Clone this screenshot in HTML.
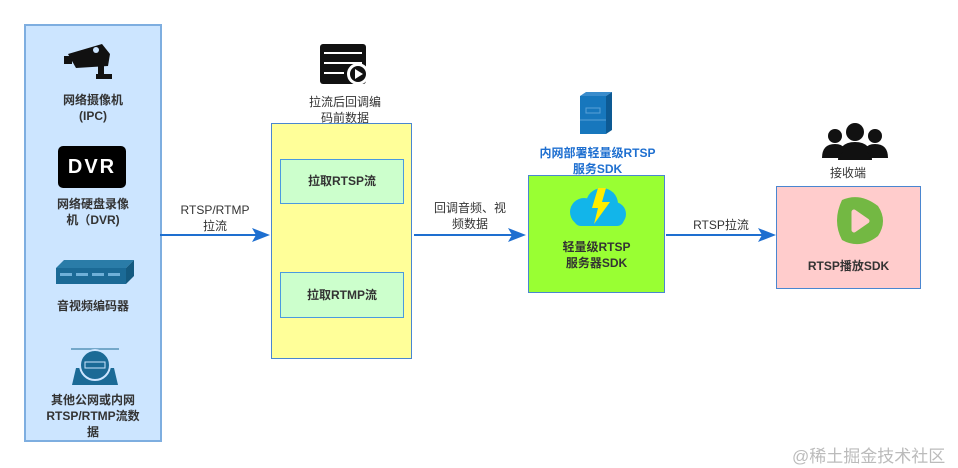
<!DOCTYPE html>
<html><head><meta charset="utf-8"><style>
body{margin:0;width:958px;height:468px;background:#fff;position:relative;overflow:hidden;font-family:"Liberation Sans","Noto Sans CJK SC",sans-serif;color:#333}
.a{position:absolute}
.t{position:absolute;text-align:center;font-size:12px;line-height:16px}
.b{font-weight:bold}
</style></head><body>
<div class="a" style="left:24px;top:24px;width:134px;height:414px;background:#cce5ff;border:2px solid #7eaee0"></div>
<!-- camera -->
<svg class="a" style="left:62px;top:42px" width="56" height="40"><polygon points="6,12 40,2 48,12 46,24 14,26" fill="#111"/><rect x="2" y="14" width="8" height="8" fill="#111"/><circle cx="34" cy="8" r="3" fill="#cce5ff"/><rect x="36" y="24" width="6" height="10" fill="#111"/><rect x="34" y="32" width="16" height="5" fill="#111"/></svg>
<div class="t b" style="left:24px;top:92px;width:138px">网络摄像机<br>(IPC)</div>
<div class="a" style="left:58px;top:146px;width:68px;height:42px;background:#000;border-radius:5px;color:#fff;font-weight:bold;font-size:20px;line-height:42px;text-align:center;letter-spacing:2px">DVR</div>
<div class="t b" style="left:24px;top:196px;width:138px">网络硬盘录像<br>机（DVR)</div>
<svg class="a" style="left:56px;top:260px" width="78" height="26"><polygon points="0,8 8,0 78,0 70,8" fill="#2a7ca8"/><polygon points="70,8 78,0 78,16 70,24" fill="#145a80"/><rect x="0" y="8" width="70" height="16" fill="#1b6a96"/><rect x="4" y="13" width="12" height="3" fill="#6fb0d8"/><rect x="20" y="13" width="12" height="3" fill="#6fb0d8"/><rect x="36" y="13" width="12" height="3" fill="#6fb0d8"/><rect x="52" y="13" width="12" height="3" fill="#6fb0d8"/></svg>
<div class="t b" style="left:24px;top:298px;width:138px">音视频编码器</div>
<svg class="a" style="left:70px;top:348px" width="50" height="38"><line x1="1" y1="1" x2="49" y2="1" stroke="#1b6a96"/><polygon points="6,20 44,20 48,37 2,37" fill="#1b6a96"/><circle cx="25" cy="17" r="15" fill="#1b6a96" stroke="#cce5ff" stroke-width="2"/><rect x="15" y="14" width="20" height="6" fill="none" stroke="#cce5ff"/></svg>
<div class="t b" style="left:24px;top:392px;width:138px">其他公网或内网<br>RTSP/RTMP流数<br>据</div>
<!-- arrow 1 -->
<div class="a" style="left:160px;top:234px;width:100px;height:2px;background:#1e6fd0"></div>
<svg class="a" style="left:252px;top:228px" width="18" height="14"><polygon points="0,0 18,7 0,14 4,7" fill="#1e6fd0"/></svg>
<div class="t" style="left:170px;top:202px;width:90px">RTSP/RTMP<br>拉流</div>
<!-- server icon -->
<svg class="a" style="left:320px;top:44px" width="52" height="42"><rect x="0" y="0" width="46" height="40" fill="#111" rx="3"/><rect x="4" y="8" width="38" height="2" fill="#fff"/><rect x="4" y="18" width="38" height="2" fill="#fff"/><rect x="4" y="28" width="20" height="2" fill="#fff"/><circle cx="38" cy="30" r="11" fill="#fff"/><circle cx="38" cy="30" r="8" fill="#111"/><polygon points="35,25 43,30 35,35" fill="#fff"/></svg>
<div class="t" style="left:290px;top:94px;width:110px">拉流后回调编<br>码前数据</div>
<div class="a" style="left:271px;top:123px;width:141px;height:236px;background:#ffff99;border:1px solid #4a86d0;box-sizing:border-box"></div>
<div class="a b" style="left:280px;top:159px;width:124px;height:45px;background:#ccffcc;border:1px solid #4a9ae0;box-sizing:border-box;font-size:12px;line-height:43px;text-align:center">拉取RTSP流</div>
<div class="a b" style="left:280px;top:272px;width:124px;height:46px;background:#ccffcc;border:1px solid #4a9ae0;box-sizing:border-box;font-size:12px;line-height:44px;text-align:center">拉取RTMP流</div>
<!-- arrow 2 -->
<div class="a" style="left:414px;top:234px;width:100px;height:2px;background:#1e6fd0"></div>
<svg class="a" style="left:508px;top:228px" width="18" height="14"><polygon points="0,0 18,7 0,14 4,7" fill="#1e6fd0"/></svg>
<div class="t" style="left:420px;top:200px;width:100px">回调音频、视<br>频数据</div>
<!-- blue server -->
<svg class="a" style="left:580px;top:92px" width="34" height="44"><polygon points="0,4 6,0 32,0 26,4" fill="#3a8ccc"/><polygon points="26,4 32,0 32,38 26,42" fill="#0d5a94"/><rect x="0" y="4" width="26" height="38" fill="#1777bd"/><rect x="6" y="16" width="14" height="5" fill="none" stroke="#5aa0d8"/><line x1="0" y1="28" x2="26" y2="28" stroke="#5aa0d8"/></svg>
<div class="t b" style="left:520px;top:145px;width:155px;color:#1e6fd0">内网部署轻量级RTSP<br>服务SDK</div>
<div class="a" style="left:528px;top:175px;width:137px;height:118px;background:#99ff33;border:1px solid #4a86d0;box-sizing:border-box"></div>
<svg class="a" style="left:564px;top:186px" width="66" height="44"><circle cx="20" cy="26" r="14" fill="#12b5ea"/><circle cx="38" cy="18" r="16" fill="#12b5ea"/><circle cx="50" cy="28" r="12" fill="#12b5ea"/><rect x="10" y="26" width="50" height="14" rx="7" fill="#12b5ea"/><polygon points="34,2 42,2 38,16 46,16 30,38 34,22 28,22" fill="#ffee00"/></svg>
<div class="t b" style="left:528px;top:239px;width:137px">轻量级RTSP<br>服务器SDK</div>
<!-- arrow 3 -->
<div class="a" style="left:666px;top:234px;width:100px;height:2px;background:#1e6fd0"></div>
<svg class="a" style="left:758px;top:228px" width="18" height="14"><polygon points="0,0 18,7 0,14 4,7" fill="#1e6fd0"/></svg>
<div class="t" style="left:676px;top:217px;width:90px">RTSP拉流</div>
<!-- people -->
<svg class="a" style="left:822px;top:122px" width="66" height="38"><circle cx="33" cy="10" r="9" fill="#111"/><path d="M16,38 Q16,20 33,20 Q50,20 50,38Z" fill="#111"/><circle cx="13" cy="14" r="7" fill="#111"/><path d="M0,36 Q0,22 13,22 Q20,22 22,26 L18,36Z" fill="#111"/><circle cx="53" cy="14" r="7" fill="#111"/><path d="M66,36 Q66,22 53,22 Q46,22 44,26 L48,36Z" fill="#111"/></svg>
<div class="t" style="left:808px;top:165px;width:80px">接收端</div>
<div class="a" style="left:776px;top:186px;width:145px;height:103px;background:#ffcccc;border:1px solid #4a86d0;box-sizing:border-box"></div>
<svg class="a" style="left:832px;top:194px" width="54" height="54"><path d="M10,6 Q28,-2 46,12 Q56,27 46,42 Q28,56 10,46 Q0,27 10,6Z" fill="#73b843"/><path d="M22,18 L35,27 L22,36Z" fill="#ffcccc" stroke="#ffcccc" stroke-width="5" stroke-linejoin="round"/></svg>
<div class="t b" style="left:776px;top:258px;width:145px">RTSP播放SDK</div>
<div class="a" style="left:792px;top:442px;font-size:17px;color:#bbb">@稀土掘金技术社区</div>
</body></html>
